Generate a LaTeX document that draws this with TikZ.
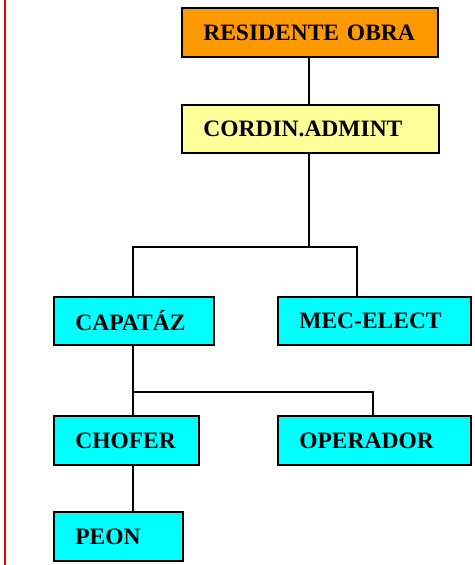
\documentclass[tikz,border=0pt]{standalone}
\usepackage{fontspec}
\setmainfont{Liberation Serif}
\definecolor{boxcyan}{RGB}{0,255,255}
\definecolor{boxorange}{RGB}{255,153,0}
\definecolor{boxyellow}{RGB}{255,255,153}
\definecolor{rulered}{RGB}{255,0,0}
\begin{document}
\begin{tikzpicture}[x=1pt,y=-1pt,
  orgbox/.style={draw=black,line width=1.7pt,rectangle,anchor=north west,
    inner xsep=21.5pt,inner ysep=0pt,align=left,
    font=\bfseries\fontsize{23.5}{28}\selectfont},
  cyanbox/.style={orgbox,fill=boxcyan},
  link/.style={draw=black,line width=1.4pt}]
\useasboundingbox (0,0) rectangle (474,565);
% left margin rule
\draw[rulered,line width=1.8pt] (5,0) -- (5,565);
% boxes
\node[orgbox,fill=boxorange,text width=213pt,minimum height=49pt] (res) at (181,7) {RESIDENTE OBRA};
\node[orgbox,fill=boxyellow,text width=214pt,minimum height=48pt] (cor) at (181,104) {CORDIN.ADMINT};
\node[cyanbox,text width=117pt,minimum height=48pt] (cap) at (53,296) {CAPATÁZ};
\node[cyanbox,text width=150pt,minimum height=48pt] (mec) at (277,296) {MEC-ELECT};
\node[cyanbox,text width=102pt,minimum height=49pt] (cho) at (53,415) {CHOFER};
\node[cyanbox,text width=150pt,minimum height=49pt] (ope) at (277,415) {OPERADOR};
\node[cyanbox,text width=86pt,minimum height=49pt] (peon) at (53,511) {PEON};
% junction points
\coordinate (j1) at (309,247);
\coordinate (mecTop) at (357,296);
\coordinate (j2) at (133,392);
\coordinate (opeTop) at (373,415);
\coordinate (choTop) at (133,415);
\coordinate (choBot) at (133,464);
\coordinate (peonTop) at (133,511);
% connectors
\draw[link] (res.south -| j1) -- (cor.north -| j1);
\draw[link] (cor.south -| j1) -- (j1);
\draw[link] (cap.north -| j2) |- (j1) -| (mecTop);
\draw[link] (cap.south -| j2) -- (j2) -| (opeTop);
\draw[link] (j2) -- (choTop);
\draw[link] (choBot) -- (peonTop);
\end{tikzpicture}
\end{document}
